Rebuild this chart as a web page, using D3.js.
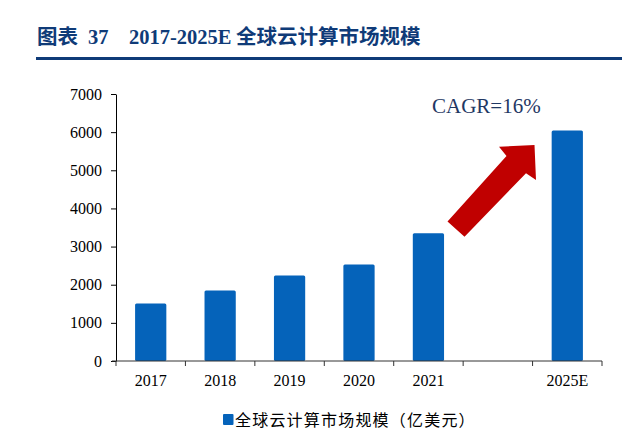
<!DOCTYPE html>
<html>
<head>
<meta charset="utf-8">
<script src="https://cdn.jsdelivr.net/npm/d3@7"></script>
<style>
  body { margin: 0; background: #fff; }
  svg { display: block; }
</style>
</head>
<body>
<svg id="chart" width="622" height="448"></svg>
<script>
// data
let years = ['2017', '2018', '2019', '2020', '2021', '', '2025E']
let marketSize = [1510, 1850, 2240, 2530, 3350, null, 6040]
let yTicks = [0, 1000, 2000, 3000, 4000, 5000, 6000, 7000]
let titleParts = [
  {text: '图表', x: 37, cjk: true},
  {text: '37', x: 88, cjk: false},
  {text: '2017-2025E', x: 129, cjk: false},
  {text: '全球云计算市场规模', x: 236, cjk: true}
]
let legendText = '全球云计算市场规模（亿美元）'
let cagrText = 'CAGR=16%'

let svg = d3.select('#chart'),
    serif = '"Liberation Serif", "Times New Roman", serif',
    cjk = '"Noto Sans CJK SC", sans-serif',
    barColor = '#0563BA',
    titleColor = '#0F3B78'

// title + rule under it
svg.append('g').selectAll('text')
  .data(titleParts)
  .join('text')
  .attr('x', d => d.x).attr('y', 44)
  .attr('font-family', d => d.cjk ? cjk : serif)
  .attr('font-weight', 'bold')
  .attr('font-size', '20.5px')
  .attr('fill', titleColor)
  .text(d => d.text)

svg.append('rect')
  .attr('x', 36).attr('y', 57)
  .attr('width', 586).attr('height', 3)
  .attr('fill', titleColor)

let x = d3.scaleBand()
  .domain(years)
  .range([116, 602])
  .paddingInner(0.55)
  .paddingOuter(0.275)

let y = d3.scaleLinear()
  .domain([0, 7000])
  .range([361, 94])

// y axis
let yAxis = svg.append('g')
  .attr('transform', 'translate(116,0)')
  .call(d3.axisLeft(y).tickValues(yTicks).tickFormat(d3.format('d'))
    .tickSize(5).tickSizeOuter(0).tickPadding(9))
yAxis.select('.domain').attr('stroke', '#000')
yAxis.selectAll('line').attr('stroke', '#000')
yAxis.selectAll('text')
  .attr('font-family', serif)
  .attr('font-size', '16px')
  .attr('fill', '#000')

// bars
svg.append('g').selectAll('rect')
  .data(years.map((d, i) => ({year: d, value: marketSize[i]})).filter(d => d.value != null))
  .join('rect')
  .attr('x', d => x(d.year))
  .attr('y', d => y(d.value))
  .attr('width', x.bandwidth())
  .attr('height', d => y(0) - y(d.value))
  .attr('rx', 1.5)
  .attr('fill', barColor)

// x axis: ticks sit on band boundaries
let xAxis = svg.append('g')
  .attr('transform', 'translate(0,361)')
xAxis.append('line')
  .attr('x1', 112).attr('x2', 602)
  .attr('stroke', '#333')
xAxis.selectAll('line.tick')
  .data(d3.range(years.length + 1))
  .join('line')
  .attr('class', 'tick')
  .attr('x1', i => 116 + i * x.step())
  .attr('x2', i => 116 + i * x.step())
  .attr('y1', 0).attr('y2', 5)
  .attr('stroke', '#333')
xAxis.selectAll('text')
  .data(years)
  .join('text')
  .attr('x', d => x(d) + x.bandwidth() / 2)
  .attr('y', 25)
  .attr('text-anchor', 'middle')
  .attr('font-family', serif)
  .attr('font-size', '16px')
  .attr('fill', '#000')
  .text(d => d)

// growth arrow annotation
svg.append('path')
  .attr('d', 'M447.5,221.5 L506.5,156 L499,146.7 L534.5,145 L536,180 L526,173.3 L464.5,236.7 Z')
  .attr('fill', '#C00000')

svg.append('text')
  .attr('x', 432).attr('y', 113)
  .attr('font-family', serif)
  .attr('font-size', '21px')
  .attr('fill', '#1F3864')
  .text(cagrText)

// legend
let legend = svg.append('g')
legend.append('rect')
  .attr('x', 223).attr('y', 414)
  .attr('width', 10.5).attr('height', 11)
  .attr('rx', 1)
  .attr('fill', barColor)
legend.append('text')
  .attr('x', 235).attr('y', 425.5)
  .attr('font-family', cjk)
  .attr('font-size', '16px')
  .attr('letter-spacing', '1.2px')
  .attr('fill', '#000')
  .text(legendText)
</script>
</body>
</html>
